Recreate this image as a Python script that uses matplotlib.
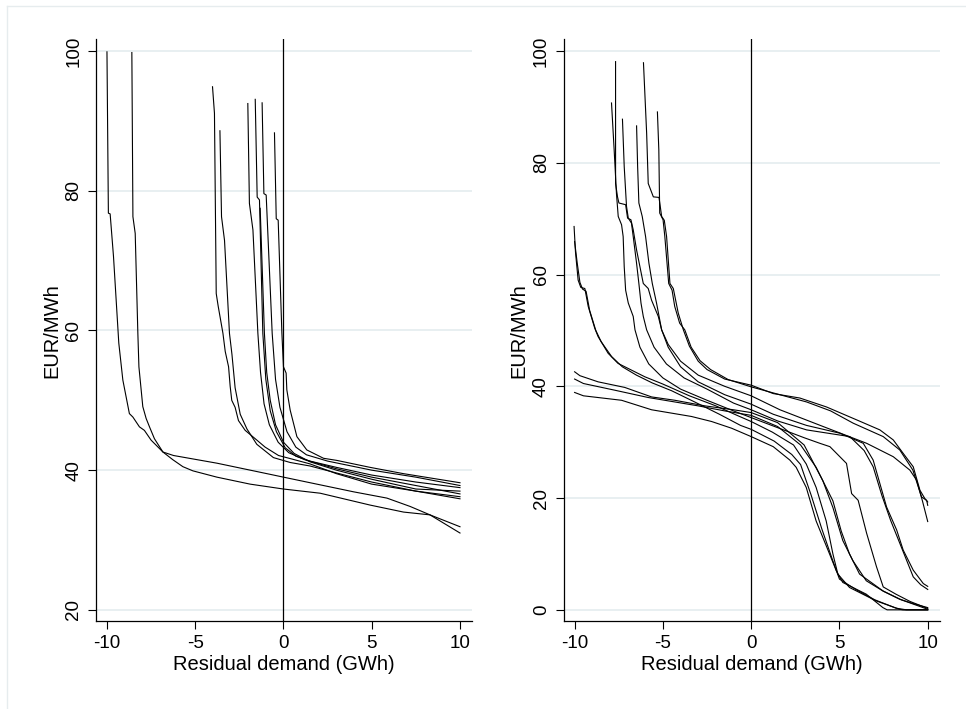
import matplotlib.pyplot as plt
from matplotlib.lines import Line2D

plt.rcParams['font.family'] = ['Liberation Sans', 'DejaVu Sans']
plt.rcParams['axes.unicode_minus'] = False

# ---- left panel: supply curves (EUR/MWh against residual demand, GWh)
a_x = [-10.0, -9.92, -9.82, -9.63, -9.48, -9.33, -9.10, -8.73, -8.53, -8.16, -7.88, -7.50,
       -6.83, -6.23, -3.77, -0.75, 0.0, 1.70, 3.97, 5.86, 7.18, 8.3, 10.0]
a_y = [99.9, 76.8, 76.7, 70.6, 64.4, 58.2, 52.9, 48.1, 47.6, 46.2, 45.7, 44.3,
       42.6, 42.1, 41.0, 39.4, 39.0, 38.1, 36.9, 36.0, 34.8, 33.6, 31.9]
b_x = [-8.59, -8.53, -8.40, -8.25, -8.19, -7.97, -7.78, -7.59, -7.31, -6.83, -6.27, -5.70,
       -5.13, -3.77, -1.89, 0.0, 2.08, 4.91, 6.80, 8.3, 10.0]
b_y = [99.8, 76.3, 73.9, 59.6, 54.8, 49.1, 47.4, 46.2, 44.5, 42.6, 41.5, 40.5,
       39.9, 39.0, 38.0, 37.3, 36.7, 35.0, 34.0, 33.6, 31.0]
c_x = [-4.02, -3.91, -3.81, -3.70, -3.43, -3.30, -3.11, -3.02, -2.93, -2.74, -2.55, -2.17,
       -1.60, -1.04, -0.28, 0.47, 1.5, 3.0, 5.0, 7.5, 10.0]
c_y = [94.9, 91.1, 65.3, 63.5, 59.6, 57.0, 54.8, 52.0, 50.0, 49.0, 47.1, 45.7,
       44.5, 43.3, 42.1, 41.6, 40.9, 39.5, 38.0, 37.0, 36.2]
d_x = [-3.60, -3.51, -3.34, -3.06, -2.92, -2.74, -2.45, -2.07, -1.51, -0.57, 0.38, 1.5,
       3.0, 5.0, 7.5, 10.0]
d_y = [88.6, 76.3, 72.9, 59.6, 56.6, 51.8, 48.0, 45.9, 43.7, 41.8, 41.1, 40.6,
       39.6, 38.3, 37.0, 35.9]
e_x = [-2.02, -1.93, -1.73, -1.45, -1.3, -1.1, -0.8, -0.3, 0.3, 1.2, 3.0, 5.0, 7.5, 10.0]
e_y = [92.5, 78.2, 74.4, 59.6, 54.0, 49.5, 46.5, 44.0, 42.5, 41.5, 40.2, 39.0, 37.8, 36.6]
f_x = [-1.60, -1.49, -1.36, -1.17, -1.0, -0.75, -0.4, 0.1, 0.7, 1.5, 3.0, 5.0, 7.5, 10.0]
f_y = [93.1, 79.1, 78.7, 59.6, 53.0, 48.5, 45.5, 43.2, 42.0, 41.3, 40.4, 39.3, 38.3, 37.5]
g_x = [-1.21, -1.11, -0.98, -0.64, -0.45, -0.2, 0.2, 0.7, 1.3, 2.5, 5.0, 7.5, 10.0]
g_y = [92.6, 79.6, 79.4, 59.6, 53.0, 49.0, 45.5, 43.3, 42.2, 41.3, 40.0, 39.0, 37.8]
h_x = [-0.51, -0.41, -0.30, -0.09, 0.0, 0.15, 0.19, 0.38, 0.76, 1.32, 2.27, 3.02, 4.91,
       6.80, 10.0]
h_y = [88.3, 76.0, 75.8, 59.6, 54.8, 53.9, 51.5, 48.6, 44.8, 42.9, 41.7, 41.4, 40.4,
       39.5, 38.2]
i_x = [-1.32, -1.08, -0.95, -0.75, -0.45, 0.0, 0.6, 1.5, 3.0, 5.0, 7.5, 10.0]
i_y = [77.5, 59.6, 54.0, 50.0, 46.5, 44.0, 42.4, 41.2, 40.0, 38.7, 37.3, 37.0]

left_curves = [(a_x, a_y), (b_x, b_y), (c_x, c_y), (d_x, d_y), (e_x, e_y),
               (f_x, f_y), (g_x, g_y), (h_x, h_y), (i_x, i_y)]

# ---- right panel
p_x = [-7.68, -7.68, -7.57, -7.49, -7.11, -7.00, -6.81, -6.68, -6.49, -6.30, -6.11, -5.83,
       -5.64, -5.26, -5.07, -4.7, -4.0, -3.0, -1.5, 0.0, 1.63, 4.08, 6.54, 8.05, 8.99,
       9.37, 9.7, 10.0]
p_y = [98.1, 76.3, 73.9, 72.8, 72.5, 70.1, 69.8, 68.0, 64.4, 61.4, 58.4, 57.5,
       55.4, 52.5, 50.1, 47.5, 44.5, 42.0, 40.0, 38.3, 35.8, 32.8, 29.8, 27.4, 25.0,
       23.2, 19.5, 15.8]
q_x = [-7.91, -7.76, -7.63, -7.53, -7.34, -7.25, -7.19, -7.11, -6.96, -6.68, -6.58, -6.3,
       -5.8, -5.0, -4.0, -2.5, -1.0, 0.0, 1.5, 3.0, 3.89, 4.46, 5.40, 5.69, 6.06, 6.54,
       7.10, 7.48, 8.2, 9.0, 10.0]
q_y = [90.7, 82.3, 74.5, 70.4, 68.9, 66.8, 61.4, 57.2, 54.9, 52.5, 50.1, 47.0,
       44.0, 41.5, 39.5, 37.5, 35.6, 34.4, 32.6, 30.8, 29.8, 29.2, 26.2, 20.8, 19.6, 13.7,
       7.7, 4.1, 2.8, 1.5, 0.25]
r_x = [-7.29, -7.19, -7.06, -6.96, -6.78, -6.68, -6.49, -6.36, -6.24, -6.11, -5.92, -5.5,
       -4.8, -3.8, -2.5, -1.0, 0.0, 1.5, 3.14, 5.59, 6.4, 6.91, 7.4, 7.9, 8.42, 9.18,
       9.6, 10.0]
r_y = [87.8, 79.3, 72.2, 70.1, 69.2, 66.8, 62.0, 58.4, 54.9, 52.5, 50.1, 47.0,
       44.0, 41.5, 39.5, 37.0, 35.8, 33.8, 32.2, 31.0, 28.5, 25.6, 20.5, 16.0, 11.9, 5.9,
       4.5, 3.65]
t_x = [-6.49, -6.43, -6.36, -6.17, -5.98, -5.79, -5.60, -5.36, -5.07, -4.7, -4.0, -3.0,
       -1.5, 0.0, 1.25, 3.14, 5.03, 6.35, 6.91, 7.29, 7.67, 8.24, 8.61, 9.18, 9.75, 10.0]
t_y = [86.6, 79.3, 72.8, 70.4, 66.8, 62.0, 58.4, 54.9, 50.1, 47.0, 43.5, 40.8,
       38.5, 36.8, 35.0, 33.0, 31.6, 29.8, 26.8, 22.6, 18.4, 14.3, 10.7, 7.1, 4.7, 4.2]
u_x = [-6.10, -5.92, -5.83, -5.54, -5.22, -5.07, -4.92, -4.79, -4.60, -4.41, -4.13, -3.84,
       -3.5, -3.0, -2.5, -1.5, 0.0, 1.25, 2.76, 4.27, 5.97, 7.29, 8.05, 8.61, 9.18, 9.56,
       9.84, 10.0]
u_y = [97.9, 85.3, 76.3, 73.9, 73.8, 70.4, 69.7, 66.8, 58.4, 57.5, 53.1, 50.1,
       47.2, 44.5, 43.0, 41.3, 40.2, 38.7, 37.9, 36.3, 34.0, 32.2, 30.4, 28.0, 25.6, 21.4,
       19.9, 19.3]
v_x = [-5.31, -5.23, -5.18, -4.99, -4.89, -4.67, -4.48, -4.33, -4.05, -3.76, -3.4, -2.9,
       -2.3, -1.3, 0.0, 1.5, 3.14, 4.5, 5.78, 7.48, 8.42, 9.16, 9.65, 9.94, 10.0]
v_y = [89.1, 82.3, 71.0, 69.8, 66.8, 58.4, 57.2, 54.3, 51.3, 50.1, 47.0, 44.6,
       43.0, 41.2, 39.9, 38.6, 37.2, 35.6, 33.4, 31.0, 28.6, 25.0, 20.2, 19.6, 18.7]
w_x = [-10.0, -9.7, -8.67, -7.16, -5.64, -4.32, -2.62, -1.0, 0.0, 1.5, 3.0, 4.06, 4.63,
       5.19, 5.76, 6.52, 7.5, 8.41, 9.2, 10.0]
w_y = [42.6, 41.9, 40.8, 39.8, 38.1, 37.5, 36.5, 35.8, 35.3, 33.5, 29.5, 23.1, 18.3,
       12.4, 8.8, 5.2, 3.3, 1.9, 1.1, 0.4]
k_x = [-10.0, -9.5, -7.72, -5.84, -3.0, -1.5, 0.0, 1.5, 2.8, 3.68, 4.63, 5.10, 5.57,
       6.14, 7.46, 8.5, 10.0]
k_y = [41.3, 40.5, 39.3, 38.0, 36.5, 35.6, 34.8, 32.8, 29.5, 25.5, 19.5, 14.1, 10.0,
       6.4, 3.4, 1.8, 0.1]
m_x = [-10.0, -9.5, -7.34, -5.64, -3.38, -2.24, -1.11, 0.0, 1.25, 2.19, 2.55, 3.12, 3.68,
       4.44, 4.82, 5.19, 6.52, 7.46, 7.7, 10.0]
m_y = [38.9, 38.3, 37.5, 35.8, 34.6, 33.7, 32.5, 31.0, 29.2, 26.8, 25.5, 21.9, 15.9,
       10.0, 7.0, 4.9, 2.8, 0.4, 0.0, 0.0]
n_x = [-10.03, -9.95, -9.8, -9.65, -9.42, -9.23, -8.86, -8.67, -8.10, -7.54, -6.78, -6.02,
       -5.0, -3.5, -2.0, -0.8, 0.0, 1.2, 2.4, 3.12, 3.68, 4.25, 4.63, 4.91, 5.57, 7.08,
       8.41, 8.6, 10.0]
n_y = [68.6, 64.0, 59.0, 57.7, 57.5, 54.3, 50.4, 48.9, 45.9, 44.1, 42.9, 41.7,
       40.4, 38.3, 36.5, 34.8, 33.7, 31.8, 29.5, 26.1, 21.9, 15.9, 10.0, 6.4, 4.0, 1.6,
       0.1, 0.0, 0.0]
o_x = [-10.0, -9.85, -9.7, -9.55, -9.35, -9.15, -8.8, -8.5, -7.9, -7.3, -6.5, -5.6,
       -4.5, -3.2, -1.8, -0.6, 0.0, 1.3, 2.3, 2.8, 3.4, 4.0, 4.6, 5.0, 6.0, 7.0,
       8.2, 8.8, 10.0]
o_y = [65.9, 62.0, 58.6, 57.4, 57.0, 53.6, 50.0, 48.0, 45.3, 43.5, 42.0, 40.6,
       39.2, 37.2, 35.0, 33.0, 32.3, 30.2, 27.8, 26.0, 20.5, 14.5, 9.0, 5.5, 3.5, 1.8,
       0.3, 0.0, 0.0]

right_curves = [(p_x, p_y), (q_x, q_y), (r_x, r_y), (t_x, t_y), (u_x, u_y), (v_x, v_y),
                (w_x, w_y), (k_x, k_y), (m_x, m_y), (n_x, n_y), (o_x, o_y)]

x_ticks = [-10, -5, 0, 5, 10]
left_yticks = [20, 40, 60, 80, 100]
right_yticks = [0, 20, 40, 60, 80, 100]

fig = plt.figure(figsize=(9.66, 7.09), dpi=100)
ax1 = fig.add_axes([0.0994, 0.1241, 0.3892, 0.8205])
ax2 = fig.add_axes([0.5835, 0.1241, 0.3893, 0.8205])


def style(ax, curves, ylim, yticks):
    for t in yticks:
        ax.axhline(t, color='#e8eff1', lw=1.4, zorder=0)
    for xs, ys in curves:
        ax.plot(xs, ys, color='black', lw=0.8, solid_joinstyle='round')
    ax.axvline(0, color='black', lw=0.9)
    ax.set_xlim(-10.62, 10.68)
    ax.set_ylim(*ylim)
    ax.set_xticks(x_ticks)
    ax.set_yticks(yticks)
    for s in ['top', 'right']:
        ax.spines[s].set_visible(False)
    for s in ['left', 'bottom']:
        ax.spines[s].set_linewidth(0.9)
    ax.tick_params(axis='both', length=6, width=0.8, labelsize=13.5, pad=4)
    for lbl in ax.get_yticklabels():
        lbl.set_rotation(90)
        lbl.set_va('center')
    ax.set_xlabel('Residual demand (GWh)', fontsize=14.5, labelpad=2)
    ax.set_ylabel('EUR/MWh', fontsize=14.5, labelpad=3)


style(ax1, left_curves, (18.4, 101.7), left_yticks)
style(ax2, right_curves, (-2.0, 102.1), right_yticks)

# faint frame round the whole graph
fig.lines.append(Line2D([6.5 / 966, 6.5 / 966], [0, 1 - 5.5 / 709], transform=fig.transFigure,
                        color='#e6ecee', lw=1))
fig.lines.append(Line2D([6.5 / 966, 1], [1 - 5.5 / 709, 1 - 5.5 / 709], transform=fig.transFigure,
                        color='#e6ecee', lw=1))

fig.savefig('out.png', dpi=100)
